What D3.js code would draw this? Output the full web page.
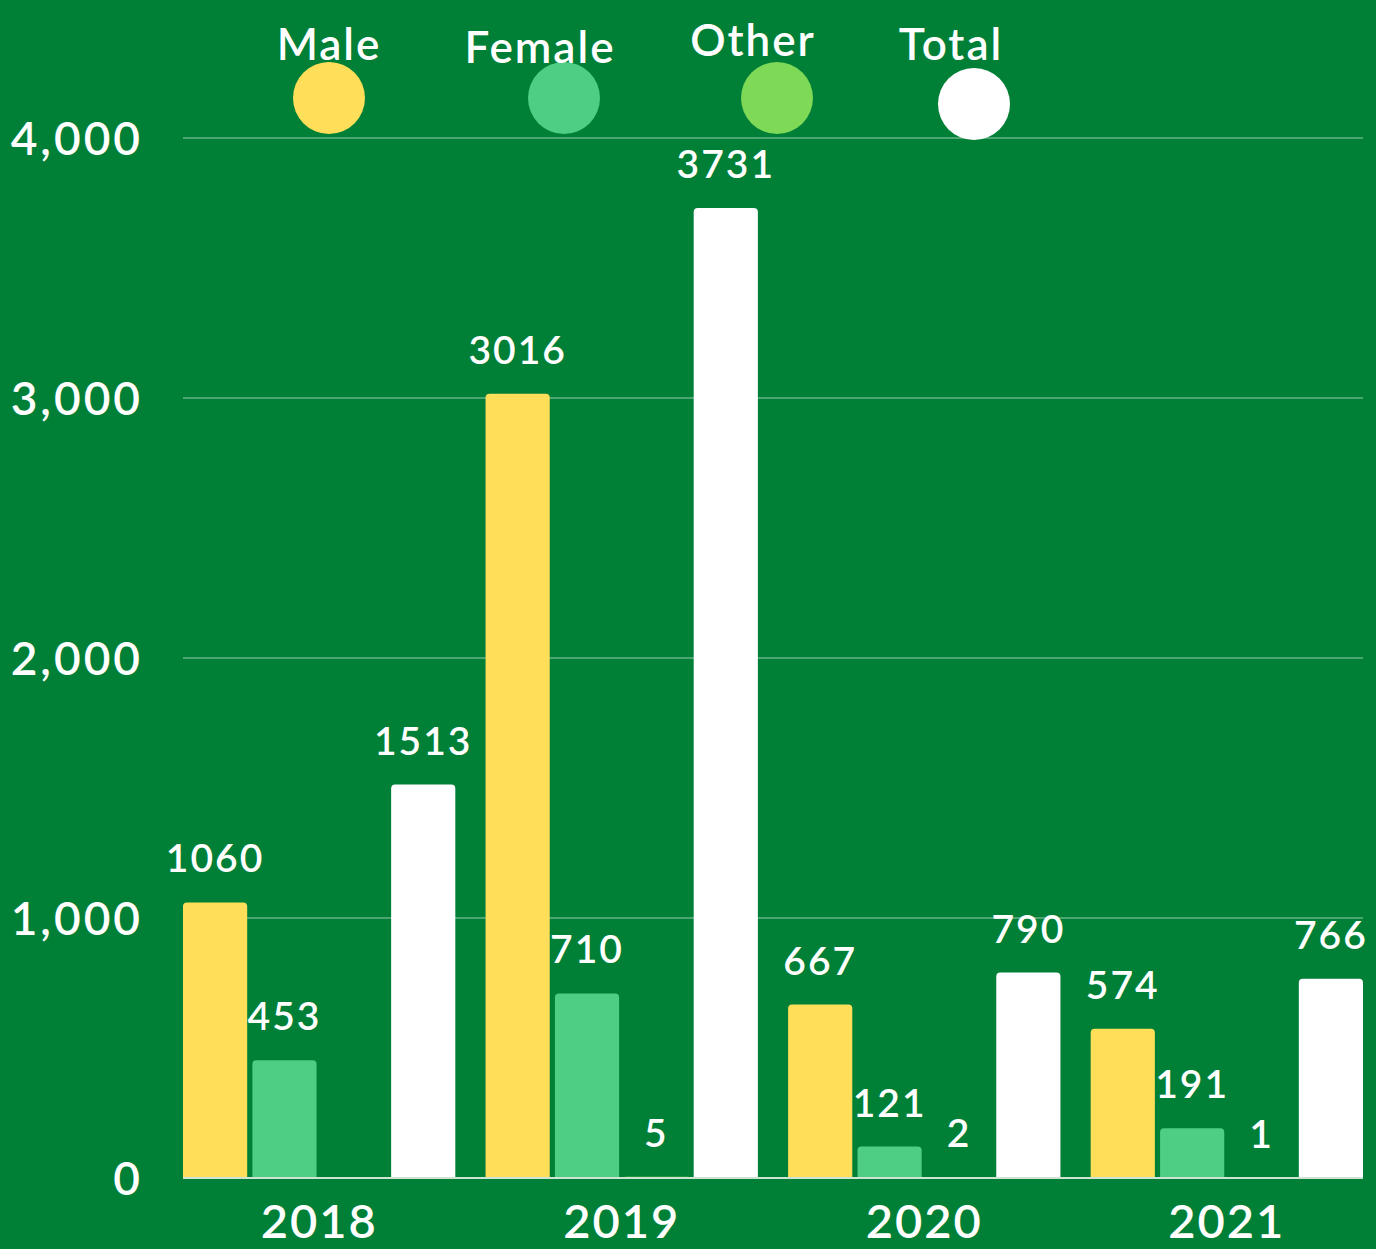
<!DOCTYPE html>
<html>
<head>
<meta charset="utf-8">
<script src="https://cdn.jsdelivr.net/npm/d3@7"></script>
<style>
  html, body { margin: 0; padding: 0; background: #007F37; }
  svg { display: block; font-family: Lato, "Noto Sans", sans-serif; }
</style>
</head>
<body>
<svg id="chart"></svg>
<script>
// chart data
const years = ["2018", "2019", "2020", "2021"];
const seriesNames = ["Male", "Female", "Other", "Total"];
const male = [1060, 3016, 667, 574];
const female = [453, 710, 121, 191];
const other = [0, 5, 2, 1];
const total = [1513, 3731, 790, 766];
const yTicks = [0, 1000, 2000, 3000, 4000];

const seriesColors = ["#FFDE59", "#4ECD84", "#7ED957", "#FFFFFF"];

const width = 1376;
const height = 1249;
const margin = { top: 138, right: 13, bottom: 71, left: 183 };

const svg = d3.select("#chart").attr("width", width).attr("height", height);

svg.append("rect")
  .attr("width", width)
  .attr("height", height)
  .attr("fill", "#007F37");

const seriesValues = [male, female, other, total];
const rows = years.map((yr, i) => ({
  year: yr,
  values: seriesNames.map((s, k) => ({ series: s, value: seriesValues[k][i], k }))
}));

const x0 = d3.scaleBand()
  .domain(years)
  .range([margin.left, width - margin.right])
  .paddingInner(0.1)
  .paddingOuter(0);

const x1 = d3.scaleBand()
  .domain(seriesNames)
  .range([0, x0.bandwidth()])
  .paddingInner(0.075);

const y = d3.scaleLinear()
  .domain([0, 4000])
  .range([height - margin.bottom, margin.top]);

// gridlines
svg.append("g")
  .selectAll("line")
  .data(yTicks.filter((d) => d > 0))
  .join("line")
  .attr("x1", margin.left)
  .attr("x2", width - margin.right)
  .attr("y1", (d) => y(d))
  .attr("y2", (d) => y(d))
  .attr("stroke", "rgba(255,255,255,0.3)")
  .attr("stroke-width", 2);

// y axis labels
const yAxis = svg.append("g")
  .attr("transform", `translate(${margin.left - 40},0)`)
  .call(d3.axisLeft(y).tickValues(yTicks).tickFormat(d3.format(",")).tickSize(0).tickPadding(0));
yAxis.select(".domain").remove();
yAxis.selectAll("text")
  .attr("fill", "#fff")
  .attr("dy", "0.35em")
  .style("font-size", "46px")
  .style("font-weight", 600)
  .style("letter-spacing", "3px")
  .style("font-family", "Lato, sans-serif");

// bars with rounded tops
function barPath(x, yTop, w, h, r) {
  if (h <= 0) return "";
  const rr = Math.min(r, h, w / 2);
  const yb = yTop + h;
  return `M${x},${yb}V${yTop + rr}Q${x},${yTop} ${x + rr},${yTop}H${x + w - rr}Q${x + w},${yTop} ${x + w},${yTop + rr}V${yb}Z`;
}

const groups = svg.append("g")
  .selectAll("g")
  .data(rows)
  .join("g")
  .attr("transform", (d) => `translate(${x0(d.year)},0)`);

groups.selectAll("path")
  .data((d) => d.values)
  .join("path")
  .attr("d", (d) => barPath(x1(d.series), y(d.value), x1.bandwidth(), y(0) - y(d.value), 4))
  .attr("fill", (d) => seriesColors[d.k]);

// value labels
groups.selectAll("text")
  .data((d) => d.values.filter((v) => v.value > 0))
  .join("text")
  .attr("x", (d) => x1(d.series) + x1.bandwidth() / 2)
  .attr("y", (d) => y(d.value) - 30)
  .attr("text-anchor", "middle")
  .attr("fill", "#fff")
  .style("font-size", "39px")
  .style("font-weight", 600)
  .style("letter-spacing", "2px")
  .text((d) => d.value);

// baseline
svg.append("line")
  .attr("x1", margin.left)
  .attr("x2", width - margin.right)
  .attr("y1", y(0))
  .attr("y2", y(0))
  .attr("stroke", "#cfe3d3")
  .attr("stroke-width", 2);

// x axis labels
const xAxis = svg.append("g")
  .attr("transform", `translate(0,${y(0)})`)
  .call(d3.axisBottom(x0).tickSize(0).tickPadding(0));
xAxis.select(".domain").remove();
xAxis.selectAll("text")
  .attr("fill", "#fff")
  .attr("y", 60)
  .attr("dy", 0)
  .style("font-size", "47px")
  .style("font-weight", 600)
  .style("letter-spacing", "2px")
  .style("font-family", "Lato, sans-serif");

// legend
const legendX = [329, 564, 777, 974];
const legend = svg.append("g")
  .selectAll("g")
  .data(seriesNames)
  .join("g")
  .attr("transform", (d, i) => `translate(${legendX[i]},0)`);

legend.append("circle")
  .attr("cy", (d, i) => (i === 3 ? 104 : 98))
  .attr("r", 36)
  .attr("fill", (d, i) => seriesColors[i]);

legend.append("text")
  .attr("x", (d, i) => (i === 1 || i === 2 ? -24 : i === 3 ? -23 : 0))
  .attr("y", (d, i) => [60, 63, 56, 60][i])
  .attr("text-anchor", "middle")
  .attr("fill", "#fff")
  .style("font-size", "44px")
  .style("font-weight", 600)
  .style("letter-spacing", "2px")
  .text((d) => d);
</script>
</body>
</html>
